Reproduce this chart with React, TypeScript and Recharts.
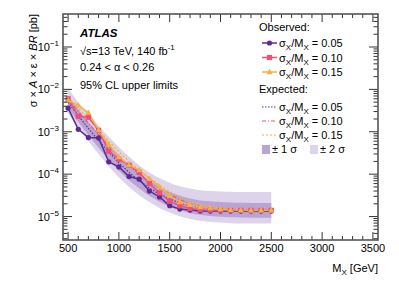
// Upper limits on σ × A × ε × BR vs M_X, ATLAS style, log y axis.
import React from 'react';
import { ComposedChart, Line, Area, XAxis, YAxis } from 'recharts';

const masses = [500, 600, 700, 800, 900, 1000, 1100, 1200, 1300, 1400, 1500, 1600, 1700, 1800, 1900, 2000, 2100, 2200, 2300, 2400, 2500];

// observed limits [pb]
const obs005 = [3.6e-3, 1.14e-3, 7.3e-4, 7.2e-4, 1.95e-4, 1.48e-4, 8.8e-5, 7.6e-5, 4.0e-5, 2.9e-5, 1.8e-5, 1.5e-5, 1.42e-5, 1.36e-5, 1.35e-5, 1.35e-5, 1.35e-5, 1.35e-5, 1.35e-5, 1.35e-5, 1.35e-5];
const obs010 = [6.0e-3, 2.3e-3, 2.2e-3, 1.08e-3, 3.5e-4, 2.25e-4, 1.63e-4, 1.1e-4, 6.0e-5, 3.6e-5, 2.3e-5, 1.8e-5, 1.55e-5, 1.45e-5, 1.42e-5, 1.4e-5, 1.4e-5, 1.4e-5, 1.4e-5, 1.4e-5, 1.4e-5];
const obs015 = [5.5e-3, 4.2e-3, 2.8e-3, 1.1e-3, 5.0e-4, 2.55e-4, 1.63e-4, 1.25e-4, 7.9e-5, 5.0e-5, 3.1e-5, 2.2e-5, 1.9e-5, 1.67e-5, 1.58e-5, 1.5e-5, 1.45e-5, 1.42e-5, 1.4e-5, 1.4e-5, 1.4e-5];

// expected limits [pb]
const exp005 = [5.0e-3, 2.4e-3, 1.2e-3, 6.2e-4, 3.3e-4, 1.85e-4, 1.1e-4, 7.0e-5, 4.7e-5, 3.4e-5, 2.6e-5, 2.1e-5, 1.8e-5, 1.65e-5, 1.55e-5, 1.5e-5, 1.45e-5, 1.42e-5, 1.41e-5, 1.4e-5, 1.4e-5];
const exp010 = [6.0e-3, 3.0e-3, 1.6e-3, 8.5e-4, 4.6e-4, 2.6e-4, 1.55e-4, 9.8e-5, 6.5e-5, 4.5e-5, 3.3e-5, 2.5e-5, 2.0e-5, 1.75e-5, 1.6e-5, 1.52e-5, 1.47e-5, 1.44e-5, 1.42e-5, 1.41e-5, 1.4e-5];
const exp015 = [6.5e-3, 3.6e-3, 2.0e-3, 1.1e-3, 6.0e-4, 3.4e-4, 2.0e-4, 1.25e-4, 8.2e-5, 5.5e-5, 3.9e-5, 2.9e-5, 2.3e-5, 1.95e-5, 1.7e-5, 1.6e-5, 1.52e-5, 1.48e-5, 1.45e-5, 1.43e-5, 1.42e-5];

// ±1σ / ±2σ bands around the 0.05 expectation
const sig1Lo = [3.6e-3, 1.7e-3, 8.3e-4, 4.2e-4, 2.2e-4, 1.2e-4, 7.2e-5, 4.6e-5, 3.1e-5, 2.25e-5, 1.7e-5, 1.4e-5, 1.2e-5, 1.1e-5, 1.03e-5, 9.9e-6, 9.6e-6, 9.5e-6, 9.4e-6, 9.4e-6, 9.4e-6];
const sig1Hi = [7.0e-3, 3.4e-3, 1.7e-3, 9.0e-4, 4.9e-4, 2.8e-4, 1.65e-4, 1.05e-4, 7.0e-5, 5.0e-5, 3.8e-5, 3.1e-5, 2.65e-5, 2.4e-5, 2.3e-5, 2.2e-5, 2.15e-5, 2.12e-5, 2.1e-5, 2.1e-5, 2.1e-5];
const sig2Lo = [2.7e-3, 1.25e-3, 6.0e-4, 3.0e-4, 1.55e-4, 8.3e-5, 5.0e-5, 3.2e-5, 2.2e-5, 1.6e-5, 1.25e-5, 1.02e-5, 8.8e-6, 8.0e-6, 7.5e-6, 7.2e-6, 7.0e-6, 6.9e-6, 6.9e-6, 6.9e-6, 6.9e-6];
const sig2Hi = [1.05e-2, 5.0e-3, 2.6e-3, 1.4e-3, 7.6e-4, 4.3e-4, 2.6e-4, 1.6e-4, 1.1e-4, 8.0e-5, 6.3e-5, 5.2e-5, 4.6e-5, 4.2e-5, 4.0e-5, 3.9e-5, 3.85e-5, 3.8e-5, 3.8e-5, 3.8e-5, 3.8e-5];

const xTicks = [500, 1000, 1500, 2000, 2500, 3000, 3500];
const xMinorStep = 100;
const yMajor = [1e-6, 1e-5, 1e-4, 1e-3, 1e-2, 1e-1];
const yMinorMult = [2, 3, 4, 5, 6, 7, 8, 9];

const rows = masses.map((m, i) => ({
  mass: m,
  obs005: obs005[i],
  obs010: obs010[i],
  obs015: obs015[i],
  exp005: exp005[i],
  exp010: exp010[i],
  exp015: exp015[i],
  band1: [sig1Lo[i], sig1Hi[i]],
  band2: [sig2Lo[i], sig2Hi[i]],
}));

const X_MIN = 450;
const X_MAX = 3550;
const Y_MIN = 2.8e-6;
const Y_MAX = 0.6;

const allXTicks: number[] = [];
for (let v = xTicks[0]; v <= xTicks[xTicks.length - 1]; v += xMinorStep) allXTicks.push(v);
const allYTicks: number[] = [];
yMajor.forEach((d) => {
  [1, ...yMinorMult].forEach((m) => {
    const v = m * d;
    if (v >= Y_MIN && v <= Y_MAX) allYTicks.push(v);
  });
});

// frame in page pixels
const L = 63;
const R = 378;
const T = 14;
const B = 240;

const PURPLE = '#5b2b8f';
const PINK = '#ee4f7b';
const ORANGE = '#f8b03c';
const BAND1 = '#b8a5d6';
const BAND2 = '#ddd3eb';
const AXIS = '#333';
const FONT = '"Liberation Sans", Arial, Helvetica, sans-serif';

const XTick = (props: any) => {
  const { x, payload } = props;
  const v = payload.value as number;
  const major = xTicks.includes(v);
  const len = major ? 8 : 4;
  return (
    <g>
      <line x1={x} x2={x} y1={B} y2={B - len} stroke={AXIS} strokeWidth={1} />
      <line x1={x} x2={x} y1={T} y2={T + len} stroke={AXIS} strokeWidth={1} />
      {major && (
        <text x={x} y={B + 12} textAnchor="middle" fontSize={11} fontFamily={FONT} fill="#000">
          {v}
        </text>
      )}
    </g>
  );
};

const YTick = (props: any) => {
  const { y, payload } = props;
  const v = payload.value as number;
  const exp = Math.round(Math.log10(v));
  const major = yMajor.includes(v);
  const len = major ? 9 : 4.5;
  return (
    <g>
      <line x1={L} x2={L + len} y1={y} y2={y} stroke={AXIS} strokeWidth={1} />
      <line x1={R} x2={R - len} y1={y} y2={y} stroke={AXIS} strokeWidth={1} />
      {major && (
        <text x={L - 4} y={y + 4} textAnchor="end" fontSize={11} fontFamily={FONT} fill="#000">
          10
          <tspan dy={-5} fontSize={8}>{'\u2212' + Math.abs(exp)}</tspan>
        </text>
      )}
    </g>
  );
};

const Dot = (p: any) => {
  if (p.cx == null || p.cy == null) return <g key={p.key} />;
  return <circle key={p.key} cx={p.cx} cy={p.cy} r={2.6} fill={PURPLE} />;
};
const Square = (p: any) => {
  if (p.cx == null || p.cy == null) return <g key={p.key} />;
  return <rect key={p.key} x={p.cx - 2.6} y={p.cy - 2.6} width={5.2} height={5.2} fill={PINK} />;
};
const Triangle = (p: any) => {
  if (p.cx == null || p.cy == null) return <g key={p.key} />;
  return (
    <polygon
      key={p.key}
      points={`${p.cx},${p.cy - 3.3} ${p.cx - 3.1},${p.cy + 2.2} ${p.cx + 3.1},${p.cy + 2.2}`}
      fill={ORANGE}
    />
  );
};

const Ratio = ({ x, y, label }: { x: number; y: number; label: string }) => (
  <text x={x} y={y} fontSize={11} fontFamily={FONT} fill="#000">
    σ<tspan dy={3} fontSize={8}>X</tspan>
    <tspan dy={-3}>/M</tspan>
    <tspan dy={3} fontSize={8}>X</tspan>
    <tspan dy={-3}>{' = ' + label}</tspan>
  </text>
);

const Overlay = () => (
  <svg width={399} height={286} style={{ position: 'absolute', left: 0, top: 0, pointerEvents: 'none' }}>
    <rect x={L} y={T} width={R - L} height={B - T} fill="none" stroke="#555" strokeWidth={1.6} />

    <text x={80} y={37} fontSize={11.5} fontWeight="bold" fontStyle="italic" fontFamily={FONT}>ATLAS</text>
    <text x={80} y={55} fontSize={11} fontFamily={FONT}>
      √s=13 TeV, 140 fb<tspan dy={-5} fontSize={8}>-1</tspan>
    </text>
    <text x={80} y={71} fontSize={11} fontFamily={FONT}>0.24 &lt; α &lt; 0.26</text>
    <text x={80} y={89} fontSize={11} fontFamily={FONT}>95% CL upper limits</text>

    <text x={259} y={31} fontSize={11} fontFamily={FONT}>Observed:</text>
    <line x1={262} x2={277} y1={43} y2={43} stroke={PURPLE} strokeWidth={1.5} />
    <circle cx={269.5} cy={43} r={2.6} fill={PURPLE} />
    <Ratio x={279} y={47} label="0.05" />
    <line x1={262} x2={277} y1={57.5} y2={57.5} stroke={PINK} strokeWidth={1.5} />
    <rect x={266.9} y={54.9} width={5.2} height={5.2} fill={PINK} />
    <Ratio x={279} y={61.5} label="0.10" />
    <line x1={262} x2={277} y1={72} y2={72} stroke={ORANGE} strokeWidth={1.5} />
    <polygon points="269.5,68.7 266.4,74.2 272.6,74.2" fill={ORANGE} />
    <Ratio x={279} y={76} label="0.15" />

    <text x={259} y={93} fontSize={11} fontFamily={FONT}>Expected:</text>
    <line x1={262} x2={277} y1={107} y2={107} stroke={PURPLE} strokeWidth={1.2} strokeDasharray="1.5 1.5" />
    <Ratio x={279} y={111} label="0.05" />
    <line x1={262} x2={277} y1={121} y2={121} stroke={PINK} strokeWidth={1.2} strokeDasharray="4 2 1 2" />
    <Ratio x={279} y={125} label="0.10" />
    <line x1={262} x2={277} y1={135} y2={135} stroke={ORANGE} strokeWidth={1.2} strokeDasharray="2 2" />
    <Ratio x={279} y={139} label="0.15" />

    <rect x={262} y={145} width={8} height={9} fill={BAND1} />
    <text x={272} y={153} fontSize={11} fontFamily={FONT}>± 1 σ</text>
    <rect x={310} y={145} width={8} height={9} fill={BAND2} />
    <text x={320} y={153} fontSize={11} fontFamily={FONT}>± 2 σ</text>

    <text
      transform="translate(37,14) rotate(-90)"
      textAnchor="end"
      fontSize={11}
      fontFamily={FONT}
    >
      σ × <tspan fontStyle="italic">A</tspan> × ε × <tspan fontStyle="italic">BR</tspan> [pb]
    </text>
    <text x={378} y={272} textAnchor="end" fontSize={11} fontFamily={FONT}>
      M<tspan dy={3} fontSize={8}>X</tspan>
      <tspan dy={-3}> [GeV]</tspan>
    </text>
  </svg>
);

export default function App() {
  return (
    <div style={{ position: 'absolute', left: 0, top: 0, width: 399, height: 286, background: '#fff', fontFamily: FONT }}>
      <ComposedChart width={399} height={286} data={rows} margin={{ top: 14, right: 21, bottom: 16, left: 3 }}>
        <XAxis
          dataKey="mass"
          type="number"
          domain={[X_MIN, X_MAX]}
          ticks={allXTicks}
          interval={0}
          tick={<XTick />}
          tickLine={false}
          axisLine={false}
          height={30}
          allowDataOverflow
        />
        <YAxis
          type="number"
          scale="log"
          domain={[Y_MIN, Y_MAX]}
          ticks={allYTicks}
          interval={0}
          tick={<YTick />}
          tickLine={false}
          axisLine={false}
          width={60}
          allowDataOverflow
        />
        <Area dataKey="band2" type="monotone" stroke="none" fill={BAND2} fillOpacity={1} isAnimationActive={false} dot={false} activeDot={false} />
        <Area dataKey="band1" type="monotone" stroke="none" fill={BAND1} fillOpacity={1} isAnimationActive={false} dot={false} activeDot={false} />
        <Line dataKey="exp005" type="linear" stroke={PURPLE} strokeWidth={1.2} strokeDasharray="1.5 1.5" dot={false} activeDot={false} isAnimationActive={false} />
        <Line dataKey="exp010" type="linear" stroke={PINK} strokeWidth={1.2} strokeDasharray="4 2 1 2" dot={false} activeDot={false} isAnimationActive={false} />
        <Line dataKey="exp015" type="linear" stroke={ORANGE} strokeWidth={1.2} strokeDasharray="2 2" dot={false} activeDot={false} isAnimationActive={false} />
        <Line dataKey="obs005" type="linear" stroke={PURPLE} strokeWidth={1.5} dot={Dot} activeDot={false} isAnimationActive={false} />
        <Line dataKey="obs010" type="linear" stroke={PINK} strokeWidth={1.5} dot={Square} activeDot={false} isAnimationActive={false} />
        <Line dataKey="obs015" type="linear" stroke={ORANGE} strokeWidth={1.5} dot={Triangle} activeDot={false} isAnimationActive={false} />
      </ComposedChart>
      <Overlay />
    </div>
  );
}
